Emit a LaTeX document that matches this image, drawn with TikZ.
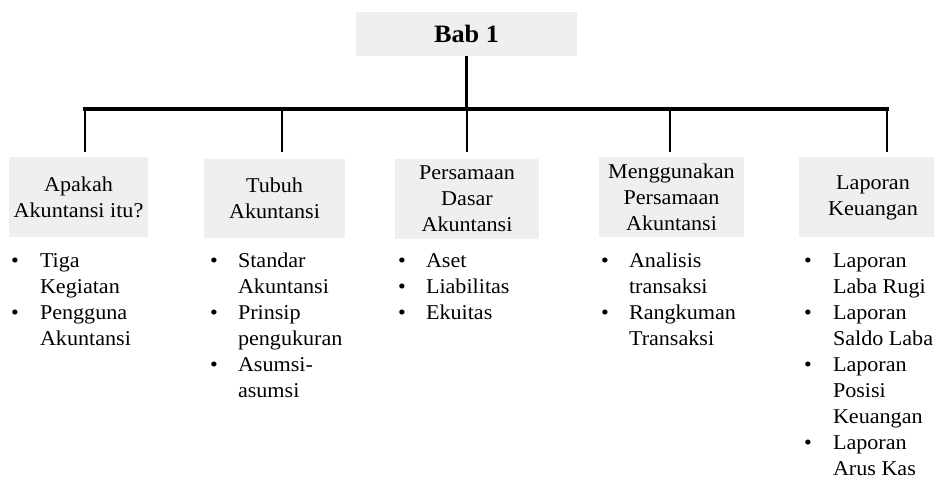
\documentclass[tikz,border=0pt]{standalone}
\usepackage{fontspec}
\setmainfont{Liberation Serif}[FakeStretch=1.05]
\definecolor{boxgray}{RGB}{239,239,239}
% lines of one list entry, hanging from the baseline of the first line
\newcommand{\entrylines}[1]{\begin{tabular}[t]{@{}l@{}}#1\end{tabular}}
\begin{document}
\begin{tikzpicture}[x=0.75pt,y=-0.75pt,
  every node/.style={inner sep=0pt, outer sep=0pt},
  txt/.style={font=\fontsize{15.8pt}{19.6pt}\selectfont},
  topic/.style={txt, fill=boxgray, align=center, minimum height=59.5pt},
  titlebox/.style={fill=boxgray, minimum width=165.75pt, minimum height=33pt,
    font=\fontsize{18.75pt}{22pt}\selectfont\bfseries},
  bus/.style={line width=2.4pt, line cap=rect},
  stem/.style={line width=1.7pt},
  dot/.style={txt, anchor=base},
  entry/.style={txt, anchor=base west},
]
\useasboundingbox (0,0) rectangle (934,479);

% chapter heading
\node[titlebox] (title) at (466.5,34) {Bab 1};

% topic boxes
\node[topic, minimum width=104.25pt] (k1) at (78.5,197) {Apakah\\Akuntansi itu?};
\node[topic, minimum width=105.75pt] (k2) at (274.5,198.5) {Tubuh\\Akuntansi};
\node[topic, minimum width=108pt]    (k3) at (467,199) {Persamaan\\Dasar\\Akuntansi};
\node[topic, minimum width=108.75pt] (k4) at (671.5,197) {Menggunakan\\Persamaan\\Akuntansi};
\node[topic, minimum width=101.25pt] (k5) at (866.5,197) {};
\node[txt, align=center] (k5t) at (873,198) {Laporan\\Keuangan};

% connector tree
\coordinate (busL) at (85,109);
\coordinate (busR) at (887,109);
\coordinate (d1) at (85,152);
\coordinate (d2) at (282,152);
\coordinate (d3) at (467,152);
\coordinate (d4) at (670,152);
\coordinate (d5) at (887,152);
\draw[stem] (title.south) -- (title.south |- busL);
\draw[bus] (busL) -- (busR);
\foreach \d in {d1,d2,d3,d4,d5}
  \draw[stem] (\d |- busL) -- (\d);

% bullet lists
\def\yo{267}
\def\st{26.1}
% column 1
\node[dot] (b11) at (15,\yo) {•};
\node[entry] (e11) at (40,\yo) {\entrylines{Tiga\\Kegiatan}};
\node[dot] (b12) at (15,\yo+2*\st) {•};
\node[entry] (e12) at (40,\yo+2*\st) {\entrylines{Pengguna\\Akuntansi}};
% column 2
\node[dot] (b21) at (214,\yo) {•};
\node[entry] (e21) at (238,\yo) {\entrylines{Standar\\Akuntansi}};
\node[dot] (b22) at (214,\yo+2*\st) {•};
\node[entry] (e22) at (238,\yo+2*\st) {\entrylines{Prinsip\\pengukuran}};
\node[dot] (b23) at (214,\yo+4*\st) {•};
\node[entry] (e23) at (238,\yo+4*\st) {\entrylines{Asumsi-\\asumsi}};
% column 3
\node[dot] (b31) at (402,\yo) {•};
\node[entry] (e31) at (426,\yo) {Aset};
\node[dot] (b32) at (402,\yo+\st) {•};
\node[entry] (e32) at (426,\yo+\st) {Liabilitas};
\node[dot] (b33) at (402,\yo+2*\st) {•};
\node[entry] (e33) at (426,\yo+2*\st) {Ekuitas};
% column 4
\node[dot] (b41) at (605,\yo) {•};
\node[entry] (e41) at (629,\yo) {\entrylines{Analisis\\transaksi}};
\node[dot] (b42) at (605,\yo+2*\st) {•};
\node[entry] (e42) at (629,\yo+2*\st) {\entrylines{Rangkuman\\Transaksi}};
% column 5
\node[dot] (b51) at (808,\yo) {•};
\node[entry] (e51) at (833,\yo) {\entrylines{Laporan\\Laba Rugi}};
\node[dot] (b52) at (808,\yo+2*\st) {•};
\node[entry] (e52) at (833,\yo+2*\st) {\entrylines{Laporan\\Saldo Laba}};
\node[dot] (b53) at (808,\yo+4*\st) {•};
\node[entry] (e53) at (833,\yo+4*\st) {\entrylines{Laporan\\Posisi\\Keuangan}};
\node[dot] (b54) at (808,\yo+7*\st) {•};
\node[entry] (e54) at (833,\yo+7*\st) {\entrylines{Laporan\\Arus Kas}};
\end{tikzpicture}
\end{document}
